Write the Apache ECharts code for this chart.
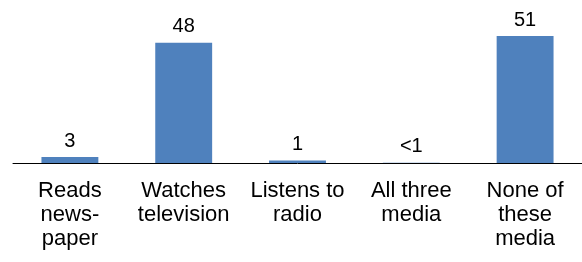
<!DOCTYPE html>
<html>
<head>
<meta charset="utf-8">
<script src="https://cdn.jsdelivr.net/npm/echarts@6/dist/echarts.min.js"></script>
<style>
  html, body { margin: 0; padding: 0; background: #fff; }
  #chart { width: 582px; height: 262px; }
</style>
</head>
<body>
<div id="chart"></div>
<script>
// media use, percent
const categories = [
  "Reads\nnews-\npaper",
  "Watches\ntelevision",
  "Listens to\nradio",
  "All three\nmedia",
  "None of\nthese\nmedia"
];
const values = [2.4, 48.3, 1, 0.1, 51];
const valueLabels = ["3", "48", "1", "<1", "51"];

const chart = echarts.init(document.getElementById("chart"), null, { renderer: "canvas" });

const option = {
  animation: false,
  backgroundColor: "#ffffff",
  textStyle: { fontFamily: "Liberation Sans, Arial, sans-serif", color: "#000" },
  grid: { left: 13, right: -4, top: 13.6, bottom: 99 },
  xAxis: {
    type: "category",
    data: categories,
    axisTick: { show: false },
    axisLine: { show: true, lineStyle: { color: "#000", width: 1 } },
    axisLabel: {
      interval: 0,
      color: "#000",
      fontSize: 22,
      lineHeight: 24,
      margin: 16,
      fontFamily: "Liberation Sans, Arial, sans-serif"
    }
  },
  yAxis: {
    type: "value",
    min: 0,
    max: 60,
    show: false,
    splitLine: { show: false }
  },
  series: [
    {
      type: "bar",
      data: values,
      barWidth: "50%",
      itemStyle: { color: "#4f81bd" },
      label: {
        show: true,
        position: "top",
        distance: 6,
        color: "#000",
        fontSize: 20,
        fontFamily: "Liberation Sans, Arial, sans-serif",
        formatter: (p) => valueLabels[p.dataIndex]
      }
    }
  ]
};

chart.setOption(option);
</script>
</body>
</html>
